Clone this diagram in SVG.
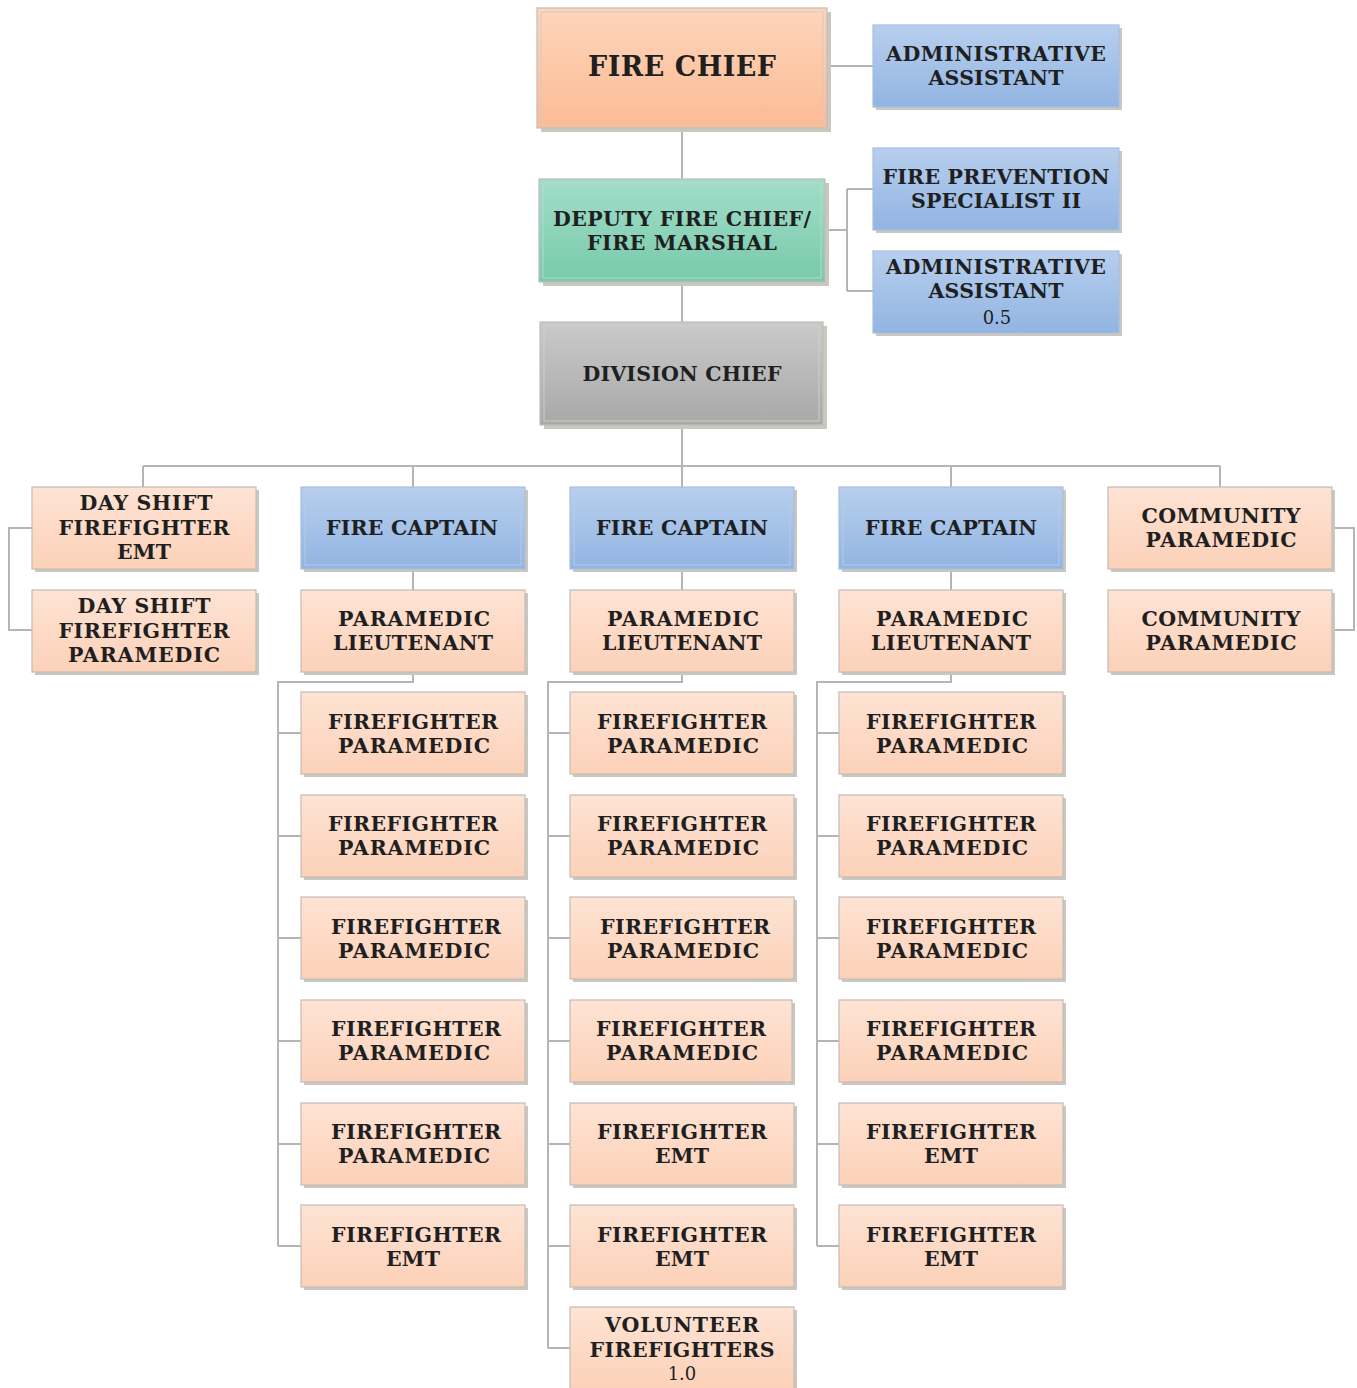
<svg xmlns="http://www.w3.org/2000/svg" width="1357" height="1388" viewBox="0 0 1357 1388">
  <defs>
    <linearGradient id="gOrange" x1="0" y1="0" x2="0" y2="1">
      <stop offset="0" stop-color="#fdd5bc"/>
      <stop offset="1" stop-color="#fcbb94"/>
    </linearGradient>
    <linearGradient id="gBlue" x1="0" y1="0" x2="0" y2="1">
      <stop offset="0" stop-color="#b7cfee"/>
      <stop offset="1" stop-color="#92b4e2"/>
    </linearGradient>
    <linearGradient id="gGreen" x1="0" y1="0" x2="0" y2="1">
      <stop offset="0" stop-color="#a2ddca"/>
      <stop offset="1" stop-color="#78caaa"/>
    </linearGradient>
    <linearGradient id="gGray" x1="0" y1="0" x2="0" y2="1">
      <stop offset="0" stop-color="#cacaca"/>
      <stop offset="1" stop-color="#a8a8a8"/>
    </linearGradient>
    <linearGradient id="gPeach" x1="0" y1="0" x2="0" y2="1">
      <stop offset="0" stop-color="#fee3d4"/>
      <stop offset="1" stop-color="#fcd1b8"/>
    </linearGradient>
  </defs>
  <style>
    .shadow { fill: #c9c7c0; }
    .box { stroke: #c4bcb8; stroke-width: 1.2; }
    .blue .box { stroke: #a9bfdc; }
    .inner { fill: none; stroke: #d2c9c4; stroke-width: 1; opacity: 0.9; }
    .blue .inner { stroke: #bccbe0; }
    .gray .inner { stroke: #d0d0d0; }
    .green .inner { stroke: #b5dccd; }
    .orange .box { fill: url(#gOrange); }
    .blue .box { fill: url(#gBlue); }
    .green .box { fill: url(#gGreen); }
    .gray .box { fill: url(#gGray); }
    .peach .box { fill: url(#gPeach); }
    text { font-family: "DejaVu Serif", "Liberation Serif", serif; font-weight: bold; font-size: 20.5px; fill: #1f1f1f; text-anchor: middle; }
    text.big { font-size: 27px; }
    text.num { font-weight: normal; font-size: 18px; }
    .links { fill: none; stroke: #b5b5b8; stroke-width: 2; }
  </style>

  <rect width="1357" height="1388" fill="#ffffff"/>

  <!-- connectors -->
  <g id="connectors" class="links">
    <path d="M682 128V179M827 66H873"/>
    <path d="M682 282V322M825 230H847M847 189V291M847 189H873M847 291H873"/>
    <path d="M682 425V466M143 466H1220M143 466V487M413 466V487M682 466V487M951 466V487M1220 466V487"/>
    <path d="M32 528H9V630H32"/>
    <path d="M1332 528H1354V630H1332"/>
    <path d="M413 569V590M682 569V590M951 569V590"/>
    <path d="M413 672V682H278V1246M278 733H301M278 836H301M278 938H301M278 1041H301M278 1144H301M278 1246H301"/>
    <path d="M682 672V682H548V1348M548 733H570M548 836H570M548 938H570M548 1041H570M548 1144H570M548 1246H570M548 1348H570"/>
    <path d="M951 672V682H817V1246M817 733H839M817 836H839M817 938H839M817 1041H839M817 1144H839M817 1246H839"/>
  </g>

  <!-- top of the organisation -->
  <g id="fire-chief" class="orange">
    <rect class="shadow" x="541" y="12" width="290" height="120"/>
    <rect class="box" x="537" y="8" width="290" height="120"/>
    <rect class="inner" x="541" y="12" width="282" height="112"/>
    <text class="big" x="682" y="76" textLength="188" lengthAdjust="spacing">FIRE CHIEF</text>
  </g>
  <g id="admin-assistant" class="blue">
    <rect class="shadow" x="876" y="28" width="246" height="82"/>
    <rect class="box" x="873" y="25" width="246" height="82"/>
    <text x="996" y="61" textLength="220" lengthAdjust="spacing">ADMINISTRATIVE</text>
    <text x="996" y="85" textLength="135" lengthAdjust="spacing">ASSISTANT</text>
  </g>

  <g id="deputy-chief" class="green">
    <rect class="shadow" x="543" y="183" width="286" height="103"/>
    <rect class="box" x="539" y="179" width="286" height="103"/>
    <rect class="inner" x="543" y="183" width="278" height="95"/>
    <text x="682" y="226" textLength="258" lengthAdjust="spacing">DEPUTY FIRE CHIEF/</text>
    <text x="682" y="250" textLength="190" lengthAdjust="spacing">FIRE MARSHAL</text>
  </g>
  <g id="fire-prevention" class="blue">
    <rect class="shadow" x="876" y="151" width="246" height="82"/>
    <rect class="box" x="873" y="148" width="246" height="82"/>
    <text x="996" y="184" textLength="227" lengthAdjust="spacing">FIRE PREVENTION</text>
    <text x="996" y="208" textLength="170" lengthAdjust="spacing">SPECIALIST II</text>
  </g>
  <g id="admin-assistant-half" class="blue">
    <rect class="shadow" x="876" y="254" width="246" height="82"/>
    <rect class="box" x="873" y="251" width="246" height="82"/>
    <text x="996" y="274" textLength="220" lengthAdjust="spacing">ADMINISTRATIVE</text>
    <text x="996" y="298" textLength="135" lengthAdjust="spacing">ASSISTANT</text>
    <text class="num" x="997" y="324">0.5</text>
  </g>

  <g id="division-chief" class="gray">
    <rect class="shadow" x="544" y="326" width="283" height="103"/>
    <rect class="box" x="540" y="322" width="283" height="103"/>
    <rect class="inner" x="544" y="326" width="275" height="95"/>
    <text x="682" y="381" textLength="199" lengthAdjust="spacing">DIVISION CHIEF</text>
  </g>

  <!-- day shift -->
  <g id="day-shift-emt" class="peach">
    <rect class="shadow" x="35" y="490" width="224" height="82"/>
    <rect class="box" x="32" y="487" width="224" height="82"/>
    <text x="146" y="510" textLength="133" lengthAdjust="spacing">DAY SHIFT</text>
    <text x="144" y="535" textLength="171" lengthAdjust="spacing">FIREFIGHTER</text>
    <text x="144" y="559" textLength="54" lengthAdjust="spacing">EMT</text>
  </g>
  <g id="day-shift-paramedic" class="peach">
    <rect class="shadow" x="35" y="593" width="224" height="82"/>
    <rect class="box" x="32" y="590" width="224" height="82"/>
    <text x="144" y="613" textLength="133" lengthAdjust="spacing">DAY SHIFT</text>
    <text x="144" y="638" textLength="171" lengthAdjust="spacing">FIREFIGHTER</text>
    <text x="144" y="662" textLength="152" lengthAdjust="spacing">PARAMEDIC</text>
  </g>

  <!-- community paramedics -->
  <g id="community-paramedic-1" class="peach">
    <rect class="shadow" x="1111" y="490" width="224" height="82"/>
    <rect class="box" x="1108" y="487" width="224" height="82"/>
    <text x="1221" y="523" textLength="159" lengthAdjust="spacing">COMMUNITY</text>
    <text x="1221" y="547" textLength="151" lengthAdjust="spacing">PARAMEDIC</text>
  </g>
  <g id="community-paramedic-2" class="peach">
    <rect class="shadow" x="1111" y="593" width="224" height="82"/>
    <rect class="box" x="1108" y="590" width="224" height="82"/>
    <text x="1221" y="626" textLength="159" lengthAdjust="spacing">COMMUNITY</text>
    <text x="1221" y="650" textLength="151" lengthAdjust="spacing">PARAMEDIC</text>
  </g>

  <!-- crew A -->
  <g id="captain-a" class="blue">
    <rect class="shadow" x="304" y="490" width="224" height="82"/>
    <rect class="box" x="301" y="487" width="224" height="82"/>
    <rect class="inner" x="305" y="491" width="216" height="74"/>
    <text x="412" y="535" textLength="172" lengthAdjust="spacing">FIRE CAPTAIN</text>
  </g>
  <g id="lieutenant-a" class="peach">
    <rect class="shadow" x="304" y="593" width="224" height="82"/>
    <rect class="box" x="301" y="590" width="224" height="82"/>
    <text x="414" y="626" textLength="152" lengthAdjust="spacing">PARAMEDIC</text>
    <text x="413" y="650" textLength="160" lengthAdjust="spacing">LIEUTENANT</text>
  </g>
  <g id="a-ff-1" class="peach">
    <rect class="shadow" x="304" y="695" width="224" height="82"/>
    <rect class="box" x="301" y="692" width="224" height="82"/>
    <text x="413" y="729" textLength="170" lengthAdjust="spacing">FIREFIGHTER</text>
    <text x="414" y="753" textLength="152" lengthAdjust="spacing">PARAMEDIC</text>
  </g>
  <g id="a-ff-2" class="peach">
    <rect class="shadow" x="304" y="798" width="224" height="82"/>
    <rect class="box" x="301" y="795" width="224" height="82"/>
    <text x="413" y="831" textLength="170" lengthAdjust="spacing">FIREFIGHTER</text>
    <text x="414" y="855" textLength="152" lengthAdjust="spacing">PARAMEDIC</text>
  </g>
  <g id="a-ff-3" class="peach">
    <rect class="shadow" x="304" y="900" width="224" height="82"/>
    <rect class="box" x="301" y="897" width="224" height="82"/>
    <text x="416" y="934" textLength="170" lengthAdjust="spacing">FIREFIGHTER</text>
    <text x="414" y="958" textLength="152" lengthAdjust="spacing">PARAMEDIC</text>
  </g>
  <g id="a-ff-4" class="peach">
    <rect class="shadow" x="304" y="1003" width="224" height="82"/>
    <rect class="box" x="301" y="1000" width="224" height="82"/>
    <text x="416" y="1036" textLength="170" lengthAdjust="spacing">FIREFIGHTER</text>
    <text x="414" y="1060" textLength="152" lengthAdjust="spacing">PARAMEDIC</text>
  </g>
  <g id="a-ff-5" class="peach">
    <rect class="shadow" x="304" y="1106" width="224" height="82"/>
    <rect class="box" x="301" y="1103" width="224" height="82"/>
    <text x="416" y="1139" textLength="170" lengthAdjust="spacing">FIREFIGHTER</text>
    <text x="414" y="1163" textLength="152" lengthAdjust="spacing">PARAMEDIC</text>
  </g>
  <g id="a-ff-6" class="peach">
    <rect class="shadow" x="304" y="1208" width="224" height="82"/>
    <rect class="box" x="301" y="1205" width="224" height="82"/>
    <text x="416" y="1242" textLength="170" lengthAdjust="spacing">FIREFIGHTER</text>
    <text x="413" y="1266" textLength="54" lengthAdjust="spacing">EMT</text>
  </g>

  <!-- crew B -->
  <g id="captain-b" class="blue">
    <rect class="shadow" x="573" y="490" width="224" height="82"/>
    <rect class="box" x="570" y="487" width="224" height="82"/>
    <rect class="inner" x="574" y="491" width="216" height="74"/>
    <text x="682" y="535" textLength="172" lengthAdjust="spacing">FIRE CAPTAIN</text>
  </g>
  <g id="lieutenant-b" class="peach">
    <rect class="shadow" x="573" y="593" width="224" height="82"/>
    <rect class="box" x="570" y="590" width="224" height="82"/>
    <text x="683" y="626" textLength="152" lengthAdjust="spacing">PARAMEDIC</text>
    <text x="682" y="650" textLength="160" lengthAdjust="spacing">LIEUTENANT</text>
  </g>
  <g id="b-ff-1" class="peach">
    <rect class="shadow" x="573" y="695" width="224" height="82"/>
    <rect class="box" x="570" y="692" width="224" height="82"/>
    <text x="682" y="729" textLength="170" lengthAdjust="spacing">FIREFIGHTER</text>
    <text x="683" y="753" textLength="152" lengthAdjust="spacing">PARAMEDIC</text>
  </g>
  <g id="b-ff-2" class="peach">
    <rect class="shadow" x="573" y="798" width="224" height="82"/>
    <rect class="box" x="570" y="795" width="224" height="82"/>
    <text x="682" y="831" textLength="170" lengthAdjust="spacing">FIREFIGHTER</text>
    <text x="683" y="855" textLength="152" lengthAdjust="spacing">PARAMEDIC</text>
  </g>
  <g id="b-ff-3" class="peach">
    <rect class="shadow" x="573" y="900" width="224" height="82"/>
    <rect class="box" x="570" y="897" width="224" height="82"/>
    <text x="685" y="934" textLength="170" lengthAdjust="spacing">FIREFIGHTER</text>
    <text x="683" y="958" textLength="152" lengthAdjust="spacing">PARAMEDIC</text>
  </g>
  <g id="b-ff-4" class="peach">
    <rect class="shadow" x="573" y="1003" width="222" height="82"/>
    <rect class="box" x="570" y="1000" width="222" height="82"/>
    <text x="681" y="1036" textLength="170" lengthAdjust="spacing">FIREFIGHTER</text>
    <text x="682" y="1060" textLength="152" lengthAdjust="spacing">PARAMEDIC</text>
  </g>
  <g id="b-ff-5" class="peach">
    <rect class="shadow" x="573" y="1106" width="224" height="82"/>
    <rect class="box" x="570" y="1103" width="224" height="82"/>
    <text x="682" y="1139" textLength="170" lengthAdjust="spacing">FIREFIGHTER</text>
    <text x="682" y="1163" textLength="54" lengthAdjust="spacing">EMT</text>
  </g>
  <g id="b-ff-6" class="peach">
    <rect class="shadow" x="573" y="1208" width="224" height="82"/>
    <rect class="box" x="570" y="1205" width="224" height="82"/>
    <text x="682" y="1242" textLength="170" lengthAdjust="spacing">FIREFIGHTER</text>
    <text x="682" y="1266" textLength="54" lengthAdjust="spacing">EMT</text>
  </g>
  <g id="volunteers" class="peach">
    <rect class="shadow" x="573" y="1310" width="224" height="82"/>
    <rect class="box" x="570" y="1307" width="224" height="82"/>
    <text x="682" y="1332" textLength="154" lengthAdjust="spacing">VOLUNTEER</text>
    <text x="682" y="1357" textLength="185" lengthAdjust="spacing">FIREFIGHTERS</text>
    <text class="num" x="682" y="1380">1.0</text>
  </g>

  <!-- crew C -->
  <g id="captain-c" class="blue">
    <rect class="shadow" x="842" y="490" width="224" height="82"/>
    <rect class="box" x="839" y="487" width="224" height="82"/>
    <rect class="inner" x="843" y="491" width="216" height="74"/>
    <text x="951" y="535" textLength="172" lengthAdjust="spacing">FIRE CAPTAIN</text>
  </g>
  <g id="lieutenant-c" class="peach">
    <rect class="shadow" x="842" y="593" width="224" height="82"/>
    <rect class="box" x="839" y="590" width="224" height="82"/>
    <text x="952" y="626" textLength="152" lengthAdjust="spacing">PARAMEDIC</text>
    <text x="951" y="650" textLength="160" lengthAdjust="spacing">LIEUTENANT</text>
  </g>
  <g id="c-ff-1" class="peach">
    <rect class="shadow" x="842" y="695" width="224" height="82"/>
    <rect class="box" x="839" y="692" width="224" height="82"/>
    <text x="951" y="729" textLength="170" lengthAdjust="spacing">FIREFIGHTER</text>
    <text x="952" y="753" textLength="152" lengthAdjust="spacing">PARAMEDIC</text>
  </g>
  <g id="c-ff-2" class="peach">
    <rect class="shadow" x="842" y="798" width="224" height="82"/>
    <rect class="box" x="839" y="795" width="224" height="82"/>
    <text x="951" y="831" textLength="170" lengthAdjust="spacing">FIREFIGHTER</text>
    <text x="952" y="855" textLength="152" lengthAdjust="spacing">PARAMEDIC</text>
  </g>
  <g id="c-ff-3" class="peach">
    <rect class="shadow" x="842" y="900" width="224" height="82"/>
    <rect class="box" x="839" y="897" width="224" height="82"/>
    <text x="951" y="934" textLength="170" lengthAdjust="spacing">FIREFIGHTER</text>
    <text x="952" y="958" textLength="152" lengthAdjust="spacing">PARAMEDIC</text>
  </g>
  <g id="c-ff-4" class="peach">
    <rect class="shadow" x="842" y="1003" width="224" height="82"/>
    <rect class="box" x="839" y="1000" width="224" height="82"/>
    <text x="951" y="1036" textLength="170" lengthAdjust="spacing">FIREFIGHTER</text>
    <text x="952" y="1060" textLength="152" lengthAdjust="spacing">PARAMEDIC</text>
  </g>
  <g id="c-ff-5" class="peach">
    <rect class="shadow" x="842" y="1106" width="224" height="82"/>
    <rect class="box" x="839" y="1103" width="224" height="82"/>
    <text x="951" y="1139" textLength="170" lengthAdjust="spacing">FIREFIGHTER</text>
    <text x="951" y="1163" textLength="54" lengthAdjust="spacing">EMT</text>
  </g>
  <g id="c-ff-6" class="peach">
    <rect class="shadow" x="842" y="1208" width="224" height="82"/>
    <rect class="box" x="839" y="1205" width="224" height="82"/>
    <text x="951" y="1242" textLength="170" lengthAdjust="spacing">FIREFIGHTER</text>
    <text x="951" y="1266" textLength="54" lengthAdjust="spacing">EMT</text>
  </g>
</svg>
